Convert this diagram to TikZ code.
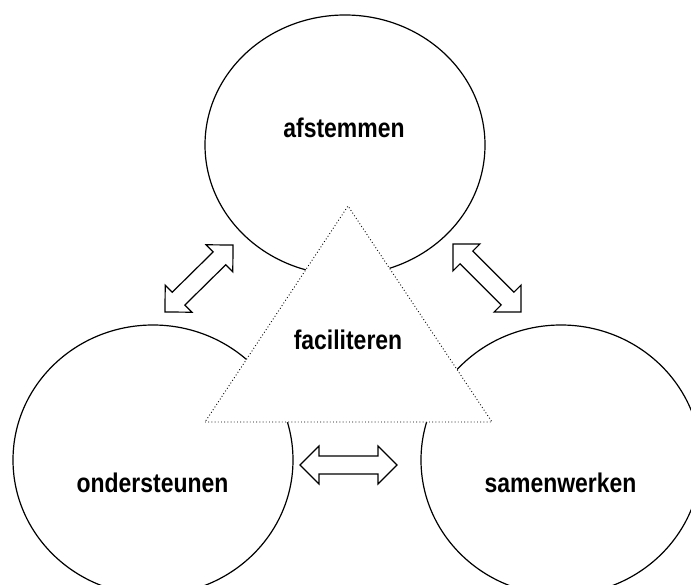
\documentclass[tikz,border=0pt]{standalone}
\usepackage{fontspec}
\setmainfont{Liberation Sans}[FakeStretch=0.85]
\usetikzlibrary{shapes.geometric,calc}
\tikzset{
  circ/.style={draw, line width=1.2pt, ellipse, inner sep=0pt, outer sep=0pt, minimum width=280pt},
  lbl/.style={font=\fontsize{27}{31}\selectfont\bfseries, anchor=base, inner sep=0pt},
  tri/.style={fill=white, line width=0.9pt, dash pattern=on 0.9pt off 2.3pt},
  blockarrow/.style={draw, line width=1.2pt, fill=white, line join=miter}
}
\newcommand\dblarr[2]{%
  \draw[blockarrow] (#1)
   -- ($(#1)!19pt!(#2)!19pt!90:(#2)$)
   -- ($(#1)!19pt!(#2)!9pt!90:(#2)$)
   -- ($(#2)!19pt!(#1)!9pt!-90:(#1)$)
   -- ($(#2)!19pt!(#1)!19pt!-90:(#1)$)
   -- (#2)
   -- ($(#2)!19pt!(#1)!19pt!90:(#1)$)
   -- ($(#2)!19pt!(#1)!9pt!90:(#1)$)
   -- ($(#1)!19pt!(#2)!9pt!-90:(#2)$)
   -- ($(#1)!19pt!(#2)!19pt!-90:(#2)$)
   -- cycle;}
\begin{document}
\begin{tikzpicture}[x=1pt,y=-1pt]
\useasboundingbox (0,0) rectangle (691,585);
\fill[white] (0,0) rectangle (691,585);
\clip (0,0) rectangle (691,585);
% circles
\node[circ, minimum height=260pt] (top) at (345,145) {};
\node[circ, minimum height=270pt] (left) at (153,460) {};
\node[circ, minimum height=270pt] (right) at (561,460) {};
% triangle
\coordinate (t1) at (205,422);
\coordinate (t2) at (492,422);
\coordinate (t3) at (348,206);
\draw[tri] (t1) -- (t2) -- (t3) -- cycle;
% arrows
\coordinate (la1) at (165,312);
\coordinate (la2) at (233,245);
\coordinate (ra1) at (453,244);
\coordinate (ra2) at (521,312);
\coordinate (ba1) at (300,465);
\coordinate (ba2) at (397,465);
\dblarr{la1}{la2}
\dblarr{ra1}{ra2}
\dblarr{ba1}{ba2}
% labels
\node[lbl] (ltop) at (344,138) {afstemmen};
\node[lbl] (lmid) at (348,349) {faciliteren};
\node[lbl] (lleft) at (152.5,492) {ondersteunen};
\node[lbl] (lright) at (560.5,492) {samenwerken};
\end{tikzpicture}
\end{document}
